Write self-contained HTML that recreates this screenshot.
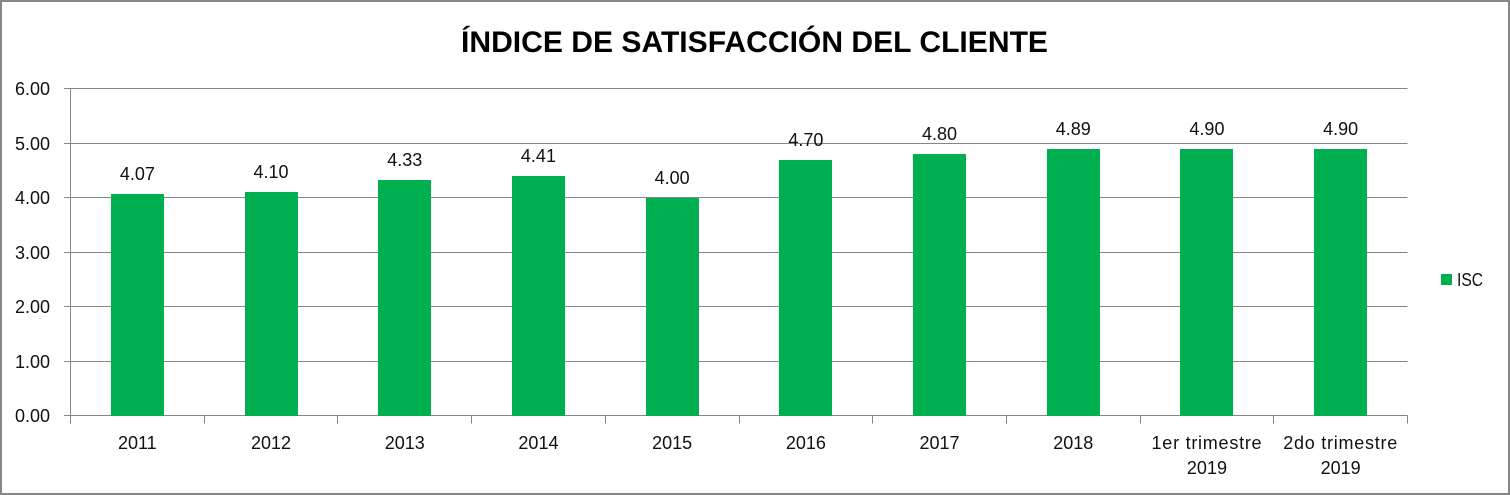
<!DOCTYPE html>
<html lang="es">
<head>
<meta charset="utf-8">
<title>Índice de satisfacción del cliente</title>
<style>
html,body{margin:0;padding:0;background:#fff;width:1510px;height:495px;overflow:hidden}
svg{display:block}
text{font-family:"Liberation Sans",sans-serif;font-size:18px;fill:#111}
</style>
</head>
<body>
<svg id="chart" width="1510" height="495" viewBox="0 0 1510 495" xmlns="http://www.w3.org/2000/svg">
<rect x="1" y="1" width="1508" height="493" fill="#fff" stroke="#868686" stroke-width="2"/>
<text x="754.5" y="52" text-anchor="middle" textLength="587" lengthAdjust="spacingAndGlyphs" style="font-size:30px;font-weight:bold;fill:#000">ÍNDICE DE SATISFACCIÓN DEL CLIENTE</text>
<g id="grid"></g>
<g id="bars"></g>
<g id="axes"></g>
<g id="labels"></g>
<g>
<rect x="1441" y="274" width="11" height="11" fill="#00b050"/>
<text x="1457" y="286" textLength="26" lengthAdjust="spacingAndGlyphs">ISC</text>
</g>
</svg>
<script>
const categories = [["2011"],["2012"],["2013"],["2014"],["2015"],["2016"],["2017"],["2018"],["1er trimestre","2019"],["2do trimestre","2019"]];
const isc = [4.07,4.10,4.33,4.41,4.00,4.70,4.80,4.89,4.90,4.90];
const yTicks = [0,1,2,3,4,5,6];

const NS = "http://www.w3.org/2000/svg";
const plotLeft = 70.5, plotRight = 1407.5, plotBottom = 415.5, plotTop = 88.5;
const yMax = yTicks[yTicks.length - 1];
const barWidth = 53;
function yScale(v){ return plotBottom - (v / yMax) * (plotBottom - plotTop); }
function band(i){ return (plotRight - plotLeft) / categories.length * i + plotLeft; }
function center(i){ return band(i) + (band(1) - band(0)) / 2; }
function crisp(v){ return Math.floor(v) + 0.5; }
function make(tag, attrs, parent){
  const el = document.createElementNS(NS, tag);
  for (const k in attrs) el.setAttribute(k, attrs[k]);
  parent.appendChild(el);
  return el;
}
const grid = document.getElementById("grid");
const barsG = document.getElementById("bars");
const axes = document.getElementById("axes");
const labelsG = document.getElementById("labels");
const lineStyle = {stroke:"#868686","stroke-width":1,"shape-rendering":"crispEdges"};

yTicks.forEach(function(t){
  const y = crisp(yScale(t));
  const line = make("line", Object.assign({x1:64,x2:plotRight,y1:y,y2:y}, lineStyle), grid);
  
  
  const tx = make("text", {x:50,y:y+6.5,"text-anchor":"end"}, axes);
  
  
  tx.textContent = t.toFixed(2);
});

const yAxis = make("line", Object.assign({x1:plotLeft,x2:plotLeft,y1:plotTop,y2:plotBottom}, lineStyle), axes);



for (let i = 0; i <= categories.length; i++){
  const x = crisp(band(i));
  const tick = make("line", Object.assign({x1:x,x2:x,y1:plotBottom,y2:plotBottom+8}, lineStyle), axes);
  
  
}

categories.forEach(function(lines, i){
  lines.forEach(function(txt, j){
    const t = make("text", {x:center(i),y:449+j*25,"text-anchor":"middle"}, axes);
    
    
    if (txt.length > 4) t.setAttribute("letter-spacing", "0.75");
    t.textContent = txt;
  });
});

isc.forEach(function(v, i){
  const top = Math.round(yScale(v) + 0.4);
  const left = Math.round(center(i) - barWidth / 2);
  const r = make("rect", {x:left,y:top,width:barWidth,height:Math.round(plotBottom)-top,fill:"#00b050"}, barsG);
  
  
  const l = make("text", {x:center(i),y:top-14,"text-anchor":"middle"}, labelsG);
  
  
  l.textContent = v.toFixed(2);
});
</script>
</body>
</html>
